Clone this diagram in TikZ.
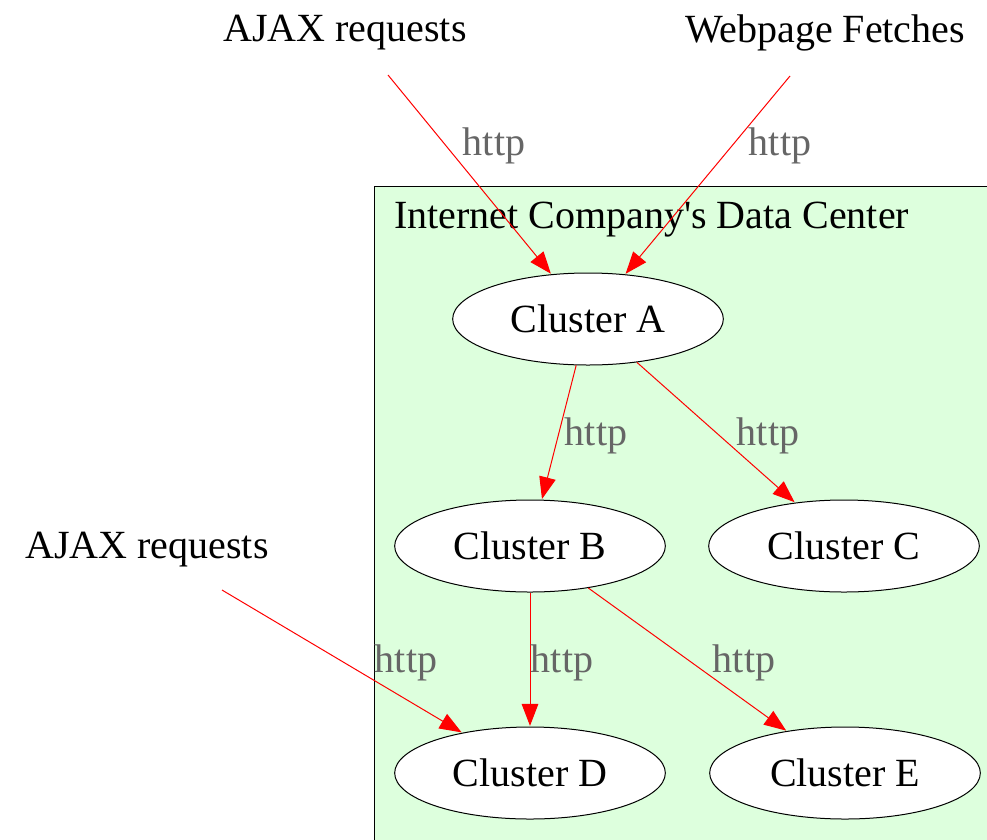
\documentclass[tikz,border=0pt]{standalone}
\usepackage{fontspec}
\setmainfont{Liberation Serif}
\usetikzlibrary{shapes.geometric}
\usetikzlibrary{arrows.meta}

\definecolor{dcgreen}{RGB}{221,255,221}
\definecolor{httpgray}{RGB}{102,102,102}

\tikzset{
  cluster/.style={draw, ellipse, fill=white, line width=0.75pt, minimum width=203pt, minimum height=69pt, inner sep=0pt, font=\fontsize{30}{36}\selectfont},
  plainlabel/.style={inner sep=0.75pt, font=\fontsize{30}{36}\selectfont},
  httplabel/.style={inner sep=0.75pt, text=httpgray, font=\fontsize{30}{36}\selectfont},
  httpedge/.style={draw=red, line width=0.75pt, -{Triangle[length=16.5pt, width=12.5pt]}, shorten >=0.5pt}
}

\begin{document}
\begin{tikzpicture}[x=0.75pt,y=0.75pt,yscale=-1,xscale=1]

\useasboundingbox (0,0) rectangle (987,839);

% Data center box
\draw [fill=dcgreen, line width=0.75pt] (374,186) rectangle (990,842);
\node (dctitle) at (393,220) [plainlabel, anchor=west] {Internet Company\textquotesingle s Data Center};

% Sources
\node (ajaxtop) at (345,33) [plainlabel] {AJAX requests};
\node (fetches) at (825,33) [plainlabel] {Webpage Fetches};
\node (ajaxleft) at (147,550) [plainlabel] {AJAX requests};
\coordinate (ajaxtopout) at (388,75);
\coordinate (fetchesout) at (790,76);
\coordinate (ajaxleftout) at (222,590);

% Clusters
\node (ca) at (588,319) [cluster] {Cluster A};
\node (cb) at (530,546) [cluster] {Cluster B};
\node (cc) at (844,546) [cluster] {Cluster C};
\node (cd) at (530,773) [cluster] {Cluster D};
\node (ce) at (845,773) [cluster] {Cluster E};

% Edges
\draw [httpedge] (ajaxtopout) -- (ca);
\draw [httpedge] (fetchesout) -- (ca);
\draw [httpedge] (ca) -- (cb);
\draw [httpedge] (ca) -- (cc);
\draw [httpedge] (ajaxleftout) -- (cd);
\draw [httpedge] (cb) -- (cd);
\draw [httpedge] (cb) -- (ce);

% Edge labels
\node (h1) at (494,146) [httplabel] {http};
\node (h2) at (780,146) [httplabel] {http};
\node (h3) at (596,436) [httplabel] {http};
\node (h4) at (768,436) [httplabel] {http};
\node (h5) at (406,663) [httplabel] {http};
\node (h6) at (562,663) [httplabel] {http};
\node (h7) at (744,663) [httplabel] {http};

\end{tikzpicture}
\end{document}
